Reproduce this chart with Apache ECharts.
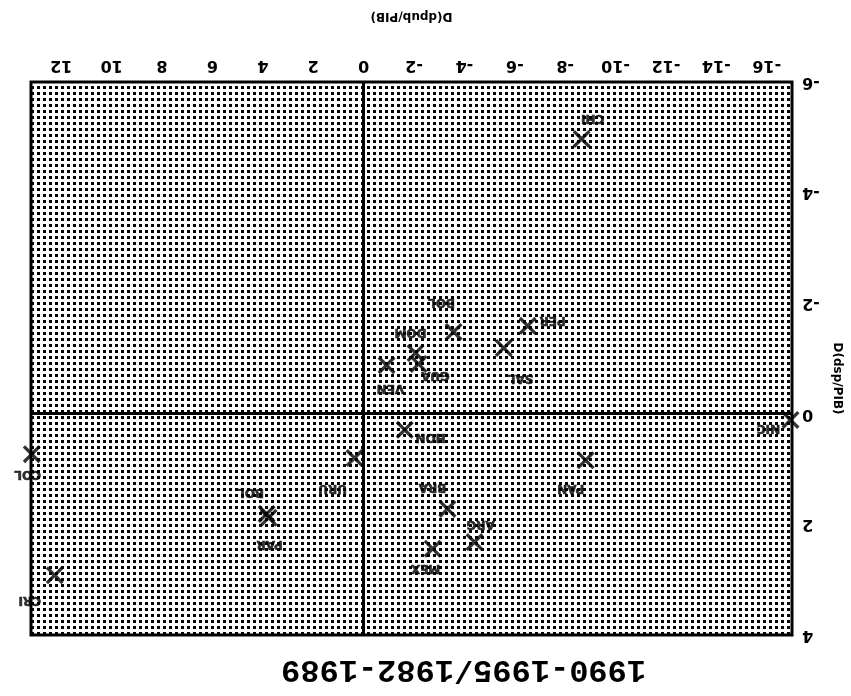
<!DOCTYPE html>
<html>
<head>
<meta charset="utf-8">
<script src="https://cdn.jsdelivr.net/npm/echarts@6/dist/echarts.min.js"></script>
<style>
html,body{margin:0;padding:0;background:#fff;}
#chart{width:851px;height:696px;transform:rotate(180deg);}
</style>
</head>
<body>
<div id="chart"></div>
<script>
// Data (the scanned page is printed upside down)
const countries = ['CHI','NIC','PER','SAL','BOL','DOM','GUA','VEN','HON','PAN','BRA','ARG','MEX','URU','BOL','PAR','COL','CRI'];
const dpub = [-8.65,-16.94,-6.51,-5.56,-3.57,-2.06,-2.18,-0.91,-1.63,-8.81,-3.33,-4.40,-2.74,0.36,3.77,3.85,13.17,12.26];
const dsp  = [-4.97,0.11,-1.59,-1.19,-1.48,-1.10,-0.90,-0.88,0.29,0.84,1.72,2.32,2.44,0.80,1.88,1.81,0.73,2.92];
const xTickLabels = [-16,-14,-12,-10,-8,-6,-4,-2,0,2,4,6,8,10,12];
const yTickLabels = [-6,-4,-2,0,2,4];
const titleText = '1990-1995/1982-1989';
const xName = 'D(dpub/PIB)';
const yName = 'D(dsp/PIB)';

// Label placement (layout only)
const labelOffsets = [[-11,21],[22,-8],[-25,6],[-17,-30],[12,30],[5,21],[-17,-11],[-4,-23],[-26,-7],[15,-28],[15,22],[-6,18],[7,-19],[22,-30],[18,26],[-3,-30],[4,-20],[25,-25]];

const tile = document.createElement('canvas');
tile.width = 6; tile.height = 6;
const ctx = tile.getContext('2d');
ctx.fillStyle = '#ffffff'; ctx.fillRect(0,0,6,6);
ctx.fillStyle = '#000000'; ctx.fillRect(1,1,3,3);

const chart = echarts.init(document.getElementById('chart'), null, {renderer:'canvas'});
const points = dpub.map((x,i)=>({
  value:[x, dsp[i]],
  name: countries[i],
  label:{offset: labelOffsets[i]}
}));

chart.setOption({
  animation:false,
  backgroundColor:'#ffffff',
  title:{
    text:titleText,
    left:200, top:6,
    textStyle:{fontFamily:'Liberation Mono', fontSize:32, fontWeight:'bold', color:'#000'}
  },
  grid:{
    left:59, right:31, top:61, bottom:82,
    show:true,
    borderColor:'#000', borderWidth:3,
    backgroundColor:{image:tile, repeat:'repeat'}
  },
  xAxis:{
    type:'value', min:-17, max:13.2,
    name:xName, nameLocation:'middle', nameGap:60,
    nameTextStyle:{fontFamily:'DejaVu Sans', fontSize:12, fontWeight:'bold', color:'#000'},
    axisLine:{show:false},
    axisTick:{show:false},
    splitLine:{show:false},
    axisLabel:{
      customValues:xTickLabels,
      margin:9,
      fontFamily:'DejaVu Sans', fontSize:16, fontWeight:'bold', color:'#000'
    }
  },
  yAxis:{
    type:'value', min:-6, max:4, interval:2,
    name:yName, nameLocation:'middle', nameGap:36,
    nameTextStyle:{fontFamily:'DejaVu Sans', fontSize:12, fontWeight:'bold', color:'#000', padding:[0,0,0,40]},
    axisLine:{show:false},
    axisTick:{show:false},
    splitLine:{show:false},
    axisLabel:{
      customValues:yTickLabels,
      margin:10,
      fontFamily:'DejaVu Sans', fontSize:16, fontWeight:'bold', color:'#000'
    }
  },
  series:[{
    type:'scatter',
    clip:false,
    symbol:'path://M0,2.6L2.6,0L10,7.4L17.4,0L20,2.6L12.6,10L20,17.4L17.4,20L10,12.6L2.6,20L0,17.4L7.4,10Z',
    symbolSize:18,
    itemStyle:{color:'#000'},
    label:{
      show:true, position:'inside', formatter:'{b}',
      fontFamily:'DejaVu Sans', fontSize:12, fontWeight:'bold', color:'#000',
      textBorderColor:'#000', textBorderWidth:0.6
    },
    data:points,
    markLine:{
      silent:true, symbol:'none', animation:false,
      label:{show:false},
      lineStyle:{color:'#000', width:3, type:'solid'},
      data:[{xAxis:0},{yAxis:0}]
    }
  }]
});
</script>
</body>
</html>
